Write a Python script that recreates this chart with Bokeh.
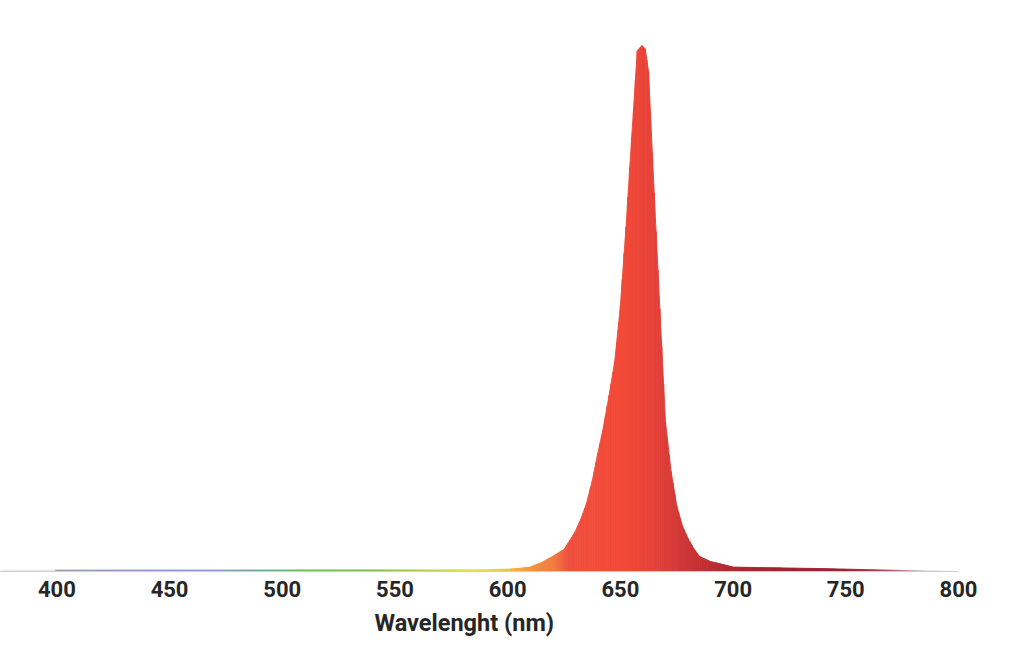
from bokeh.plotting import figure
from bokeh.models import Range1d, FixedTicker, Title, ColumnDataSource
from bokeh.embed import file_html
from bokeh.resources import INLINE

# ---- data: relative spectral intensity (% of peak) ----
wavelength = [375, 390, 400, 410, 420, 430, 440, 450, 460, 470, 480, 490, 500,
              510, 520, 530, 540, 550, 560, 570, 580, 590, 600, 605, 610, 615,
              620, 625, 630, 632.5, 635, 637.5, 640, 642.5, 645, 647.5, 650,
              652.5, 655, 657.5, 659.5, 661, 662.5, 665, 667.5, 670, 672.5,
              675, 677.5, 680, 682.5, 685, 690, 695, 700, 710, 720, 730, 740,
              750, 760, 770, 780, 790, 800]
intensity = [0.25, 0.25, 0.28, 0.28, 0.28, 0.28, 0.28, 0.28, 0.28, 0.28, 0.28,
             0.28, 0.28, 0.3, 0.3, 0.3, 0.3, 0.3, 0.3, 0.3, 0.32, 0.35, 0.45,
             0.6, 0.85, 1.7, 2.9, 4.2, 7.6, 10.0, 13.0, 17.2, 22.5, 27.5, 33.5,
             40.0, 50.5, 65.5, 82.5, 99.0, 100.0, 99.4, 95.0, 72.0, 50.0, 28.5,
             19.0, 12.5, 8.7, 6.3, 4.4, 2.9, 1.9, 1.4, 0.85, 0.75, 0.7, 0.62,
             0.55, 0.45, 0.35, 0.25, 0.15, 0.07, 0.0]
tick_values = [400, 450, 500, 550, 600, 650, 700, 750, 800]
x_label = "Wavelenght (nm)"

# ---- style: spectrum colour stops ----
stop_wl = [375, 399, 400, 440, 470, 490, 510, 540, 565, 585, 600, 612, 621,
           627, 650, 665, 680, 695, 710, 750, 770, 785, 800]
stop_col = ["#ececf2", "#e6e6ee", "#9aa0bc", "#8c98c4", "#8a9cc8", "#6fa39a",
            "#74bd5c", "#7dc04f", "#bcd345", "#efe34a", "#f2c244", "#f2903e",
            "#f27a40", "#ef5040", "#f34a37", "#e5423a", "#cc3535", "#b52a30",
            "#a82430", "#9e2030", "#a85060", "#c8c0c0", "#d0d0d0"]


def hex2rgb(h):
    return tuple(int(h[i:i + 2], 16) for i in (1, 3, 5))


def color_at(w):
    if w <= stop_wl[0]:
        return stop_col[0]
    for i in range(len(stop_wl) - 1):
        a, b = stop_wl[i], stop_wl[i + 1]
        if a <= w <= b:
            t = (w - a) / (b - a)
            ca, cb = hex2rgb(stop_col[i]), hex2rgb(stop_col[i + 1])
            c = [round(ca[k] + (cb[k] - ca[k]) * t) for k in range(3)]
            return "#%02x%02x%02x" % tuple(c)
    return stop_col[-1]


# Each data segment is drawn as a trapezoid; it is cut into thin slices of
# the same outline so that the fill colour can follow the spectrum smoothly.
xs, ys, cols = [], [], []
for i in range(len(wavelength) - 1):
    w0, w1 = wavelength[i], wavelength[i + 1]
    v0, v1 = intensity[i], intensity[i + 1]
    n = max(1, int(round((w1 - w0) / 0.8)))
    for k in range(n):
        a, b = k / n, (k + 1) / n
        xa, xb = w0 + (w1 - w0) * a, w0 + (w1 - w0) * b
        ya, yb = v0 + (v1 - v0) * a, v0 + (v1 - v0) * b
        xs.append([xa, xa, xb, xb])
        ys.append([0, ya, yb, 0])
        cols.append(color_at((xa + xb) / 2))

src = ColumnDataSource(dict(xs=xs, ys=ys, color=cols))

p = figure(width=1016, height=653, output_backend="svg", toolbar_location=None,
           x_range=Range1d(375, 800), y_range=Range1d(0, 108.56),
           min_border_left=0, min_border_right=58, min_border_top=0,
           min_border_bottom=82)
p.background_fill_color = "white"
p.border_fill_color = "white"
p.outline_line_color = None
p.grid.visible = False
p.yaxis.visible = False

p.patches("xs", "ys", source=src, fill_color="color", line_color="color",
          line_width=0.9)

ax = p.xaxis[0]
ax.ticker = FixedTicker(ticks=tick_values)
ax.axis_line_color = "#cfcfcf"
ax.axis_line_width = 1
ax.major_tick_line_color = None
ax.minor_tick_line_color = None
ax.major_tick_out = 0
ax.major_tick_in = 0
ax.major_label_standoff = 9
ax.major_label_text_font = "Roboto"
ax.major_label_text_font_style = "bold"
ax.major_label_text_font_size = "22px"
ax.major_label_text_color = "#262626"

p.add_layout(Title(text=x_label, align="left", offset=374, standoff=15,
                   text_font="Roboto", text_font_style="bold",
                   text_font_size="23.5px", text_color="#262626"), "below")

open("out.html", "w").write(file_html(p, INLINE))
